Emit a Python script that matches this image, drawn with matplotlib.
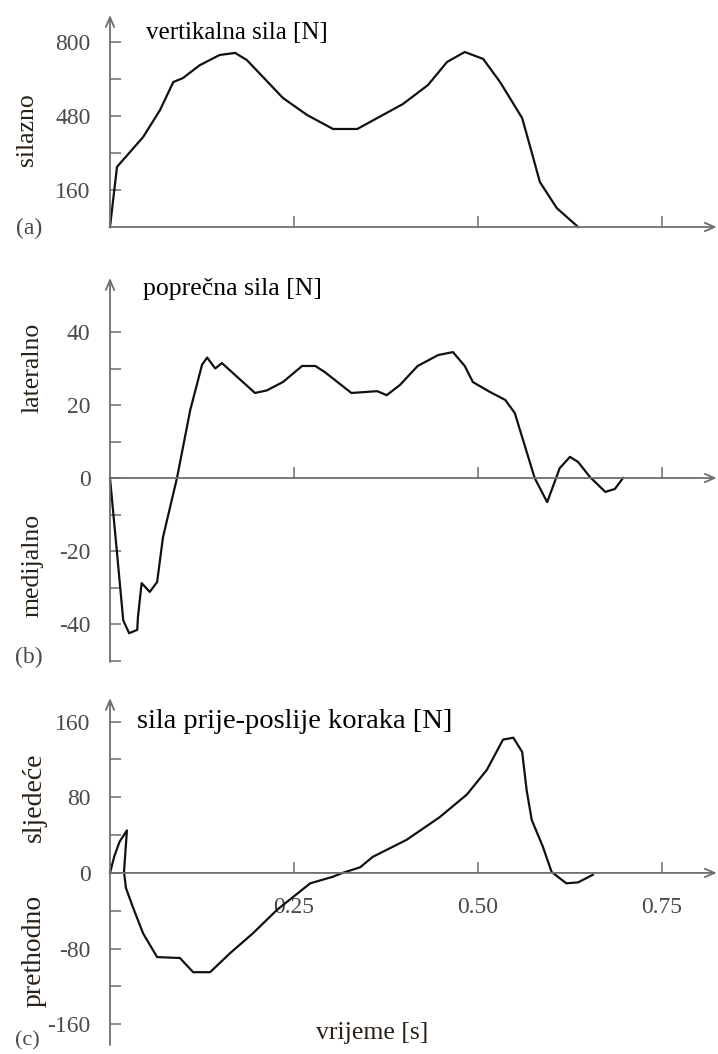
import matplotlib
matplotlib.use("Agg")
import matplotlib.pyplot as plt

plt.rcParams["font.family"] = ["Liberation Serif", "DejaVu Serif"]
plt.rcParams["axes.unicode_minus"] = False

# vertical ground reaction force
t_vert = [0, 0.0095, 0.045, 0.068, 0.086, 0.099, 0.122, 0.149, 0.170, 0.186,
          0.235, 0.268, 0.303, 0.336, 0.398, 0.432, 0.458, 0.482, 0.507,
          0.530, 0.560, 0.571, 0.584, 0.607, 0.636]
f_vert = [0, 260, 389, 506, 627, 644, 700, 744, 753, 722,
          558, 484, 424, 424, 532, 614, 714, 757, 727,
          627, 471, 346, 195, 82, 0]

# medio-lateral force
t_lat = [0, 0.0095, 0.018, 0.026, 0.037, 0.038, 0.043, 0.054, 0.064, 0.072,
         0.091, 0.109, 0.125, 0.132, 0.143, 0.152, 0.197, 0.213, 0.235,
         0.261, 0.279, 0.292, 0.328, 0.363, 0.376, 0.394, 0.418, 0.446,
         0.466, 0.482, 0.493, 0.516, 0.537, 0.550, 0.577, 0.594, 0.611,
         0.625, 0.636, 0.652, 0.673, 0.686, 0.697]
f_lat = [0, -20.5, -39, -42.5, -41.6, -38, -28.8, -31.2, -28.5, -16.2,
         0, 18.6, 31, 33, 30, 31.5, 23.3, 24, 26.3,
         30.7, 30.7, 29, 23.3, 23.8, 22.7, 25.5, 30.7, 33.7,
         34.5, 30.7, 26.3, 23.6, 21.4, 17.8, 0, -6.6, 2.7,
         5.8, 4.4, 0.3, -3.8, -3, 0]

# anterior-posterior force
t_ap = [0, 0.006, 0.013, 0.023, 0.019, 0.0217, 0.031, 0.045, 0.064, 0.095,
        0.113, 0.136, 0.163, 0.194, 0.227, 0.272, 0.303, 0.316, 0.340,
        0.357, 0.403, 0.448, 0.485, 0.512, 0.534, 0.548, 0.560, 0.566,
        0.573, 0.588, 0.600, 0.620, 0.636, 0.656]
f_ap = [0, 18, 33, 45, 1, -16, -36, -64, -89, -90,
        -105, -105, -85, -64, -39, -11, -4, 0, 6,
        17, 35, 59, 83, 109, 141, 143, 128, 88,
        56, 28, 1, -11, -10, -2]

x_ticks = [0.25, 0.50, 0.75]
x_ticklabels = ["0.25", "0.50", "0.75"]

W, H = 718, 1054
AX_COL = "#6e6e6e"
LBL_COL = "#4a4a4a"
NAME_COL = "#2a2016"


def px_axes(fig, left, top, right, bottom):
    return fig.add_axes([left / W, 1 - bottom / H, (right - left) / W, (bottom - top) / H])


def fig_text(fig, x, y, s, **kw):
    fig.text(x / W, 1 - y / H, s, **kw)


def setup(ax, ylim, major, minor, xlabels=False):
    xmax = 608 / 736
    ax.set_xlim(0, xmax)
    ax.set_ylim(*ylim)
    for side in ax.spines:
        ax.spines[side].set_visible(False)
    ax.spines["bottom"].set_position(("data", 0))
    ax.spines["left"].set_position(("data", 0))
    # axis lines with open arrow heads
    arrow = dict(arrowstyle="->,head_length=0.7,head_width=0.3", color=AX_COL,
                 lw=1.3, shrinkA=0, shrinkB=0)
    ax.annotate("", xy=(xmax * 0.998, 0), xytext=(0, 0), arrowprops=arrow,
                annotation_clip=False)
    ax.annotate("", xy=(0, ylim[1]), xytext=(0, ylim[0]), arrowprops=arrow,
                annotation_clip=False)
    ax.set_yticks(major)
    ax.set_yticklabels([str(v) for v in major])
    ax.set_yticks(minor, minor=True)
    ax.set_xticks(x_ticks)
    ax.set_xticklabels(x_ticklabels if xlabels else [])
    ax.tick_params(which="both", direction="in", length=8, width=1.1,
                   color=AX_COL, labelcolor=LBL_COL, labelsize=17)
    ax.tick_params(axis="y", pad=14)
    ax.tick_params(axis="x", pad=17)
    ax.patch.set_alpha(0)


fig = plt.figure(figsize=(W / 100, H / 100), dpi=100)

ax_a = px_axes(fig, 110, 15, 718, 227)
setup(ax_a, (0, 917), [160, 480, 800], [320, 640])
ax_a.plot(t_vert, f_vert, color="#111111", lw=1.6, clip_on=False)

ax_b = px_axes(fig, 110, 278, 718, 662)
setup(ax_b, (-50.4, 54.8), [-40, -20, 0, 20, 40], [-50, -30, -10, 10, 30])
ax_b.plot(t_lat, f_lat, color="#111111", lw=1.6, clip_on=False)

ax_c = px_axes(fig, 110, 698, 718, 1045)
setup(ax_c, (-182, 185), [-160, -80, 0, 80, 160], [-120, -40, 40, 120], xlabels=True)
ax_c.plot(t_ap, f_ap, color="#111111", lw=1.6, clip_on=False)

# panel titles
fig_text(fig, 146, 33, "vertikalna sila [N]", fontsize=18, va="center")
fig_text(fig, 143, 289, "poprečna sila [N]", fontsize=18.5, va="center")
fig_text(fig, 137, 722, "sila prije-poslije koraka [N]", fontsize=20.5, va="center")

# direction names along the vertical axes
side = dict(rotation=90, ha="center", va="center", color=NAME_COL)
fig_text(fig, 27, 130, "silazno", fontsize=18.5, **side)
fig_text(fig, 33, 368, "lateralno", fontsize=18.5, **side)
fig_text(fig, 33, 565, "medijalno", fontsize=18.5, **side)
fig_text(fig, 34, 797, "sljedeće", fontsize=20, **side)
fig_text(fig, 34, 951, "prethodno", fontsize=20, **side)

# panel letters
fig_text(fig, 29, 228, "(a)", fontsize=17, ha="center", va="center", color=LBL_COL)
fig_text(fig, 29, 657, "(b)", fontsize=17, ha="center", va="center", color=LBL_COL)
fig_text(fig, 27, 1041, "(c)", fontsize=16, ha="center", va="center", color=LBL_COL)

fig_text(fig, 372, 1033, "vrijeme [s]", fontsize=18.5, ha="center", va="center", color=NAME_COL)

fig.savefig("out.png", dpi=100)
